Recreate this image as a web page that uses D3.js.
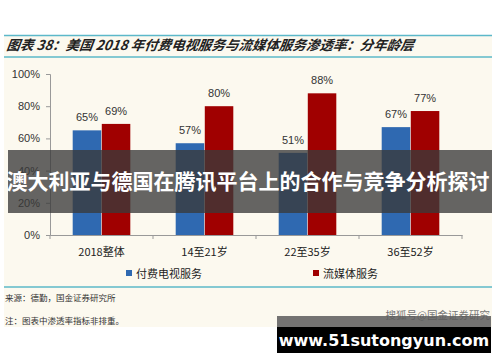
<!DOCTYPE html>
<html>
<head>
<meta charset="utf-8">
<script src="https://cdn.jsdelivr.net/npm/d3@7"></script>
<style>
  body { margin: 0; background: #fff; }
  text { font-family: "Liberation Sans", Arial, sans-serif; }
  .cjk { font-family: "Noto Sans CJK SC", sans-serif; }
</style>
</head>
<body>
<div id="chart"></div>
<script>
// data
const categories = ['2018整体', '14至21岁', '22至35岁', '36至52岁']
const payTV = [65, 57, 51, 67]
const streaming = [69, 80, 88, 77]
const seriesNames = ['付费电视服务', '流媒体服务']
const yTicks = [0, 20, 40, 60, 80, 100]

// constants
const width = 500
const height = 362
const cream = '#fcf9ef'
const lineBlue = '#5cb8c9'
const colors = ['#2f69b1', '#a00000']
const margin = {top: 74, left: 50, right: 38, bottom: 127}

const svg = d3.select('#chart').append('svg')
  .attr('width', width)
  .attr('height', height)

svg.append('rect').attr('width', width).attr('height', height).attr('fill', '#fff')
svg.append('rect')
  .attr('x', 4).attr('y', 35).attr('width', 488).attr('height', 292)
  .attr('fill', cream)

// title band
svg.append('line').attr('x1', 4).attr('x2', 492).attr('y1', 35.5).attr('y2', 35.5)
  .attr('stroke', lineBlue).attr('stroke-width', 1.5)
svg.append('line').attr('x1', 4).attr('x2', 492).attr('y1', 57).attr('y2', 57)
  .attr('stroke', lineBlue).attr('stroke-width', 1.5)
svg.append('text').attr('class', 'cjk')
  .attr('x', 7).attr('y', 50.5)
  .attr('font-size', 13.5).attr('font-weight', 'bold').attr('font-style', 'italic')
  .attr('fill', '#222')
  .attr('transform', 'skewX(-8) translate(6,0)')
  .text('图表 38：美国 2018 年付费电视服务与流媒体服务渗透率：分年龄层')

// scales
const x = d3.scaleBand()
  .domain(categories)
  .range([margin.left, width - margin.right])
const xInner = d3.scaleBand()
  .domain([0, 1])
  .range([0, x.bandwidth()])
  .paddingOuter(0.78)
  .paddingInner(0.02)
const y = d3.scaleLinear()
  .domain([0, 100])
  .range([height - margin.bottom, margin.top])

// axes
const yAxis = svg.append('g')
  .attr('transform', `translate(${margin.left},0)`)
  .call(d3.axisLeft(y).tickValues(yTicks).tickFormat(d => d + '%').tickSize(4).tickPadding(6))
yAxis.selectAll('path, line').attr('stroke', '#999')
yAxis.selectAll('text').attr('font-size', 11).attr('fill', '#333')
  .style('font-family', '"Liberation Sans", Arial, sans-serif')

const xAxis = svg.append('g')
  .attr('transform', `translate(0,${y(0)})`)
  .call(d3.axisBottom(x).tickSize(0).tickPadding(13))
xAxis.select('.domain').attr('stroke', '#999')
xAxis.selectAll('text').attr('font-size', 11).attr('fill', '#222')
  .style('font-family', '"Noto Sans CJK SC", sans-serif')
// category separators
svg.selectAll('.sep')
  .data(categories.concat(['end']))
  .join('line')
  .attr('x1', (d, i) => margin.left + i * x.step())
  .attr('x2', (d, i) => margin.left + i * x.step())
  .attr('y1', y(0)).attr('y2', y(0) + 4)
  .attr('stroke', '#999')

// bars
const series = [payTV, streaming]
series.forEach((vals, s) => {
  const g = svg.append('g')
  g.selectAll('rect')
    .data(vals)
    .join('rect')
    .attr('x', (d, i) => x(categories[i]) + xInner(s))
    .attr('y', d => y(d))
    .attr('width', xInner.bandwidth())
    .attr('height', d => y(0) - y(d))
    .attr('fill', colors[s])
  g.selectAll('text')
    .data(vals)
    .join('text')
    .attr('x', (d, i) => x(categories[i]) + xInner(s) + xInner.bandwidth() / 2)
    .attr('y', d => y(d) - 9)
    .attr('text-anchor', 'middle')
    .attr('font-size', 11)
    .attr('fill', '#333')
    .text(d => d + '%')
})

// legend
const legendX = [126, 313]
seriesNames.forEach((name, i) => {
  svg.append('rect')
    .attr('x', legendX[i]).attr('y', 270).attr('width', 6).attr('height', 6)
    .attr('fill', colors[i])
  svg.append('text').attr('class', 'cjk')
    .attr('x', legendX[i] + 10).attr('y', 277.5)
    .attr('font-size', 11).attr('fill', '#222')
    .text(name)
})

// footer
svg.append('line').attr('x1', 4).attr('x2', 492).attr('y1', 287).attr('y2', 287)
  .attr('stroke', lineBlue).attr('stroke-width', 1.5)
svg.append('text').attr('class', 'cjk')
  .attr('x', 5).attr('y', 301).attr('font-size', 8.5).attr('fill', '#333')
  .text('来源：德勤，国金证券研究所')
svg.append('text').attr('class', 'cjk')
  .attr('x', 5).attr('y', 324).attr('font-size', 8.5).attr('fill', '#333')
  .text('注：图表中渗透率指标非排重。')

// watermark boxes
svg.append('text').attr('class', 'cjk')
  .attr('x', 490).attr('y', 319).attr('text-anchor', 'end')
  .attr('font-size', 10.5).attr('fill', '#777')
  .text('搜狐号@国金证券研究')
svg.append('rect').attr('x', 277).attr('y', 316).attr('width', 214).attr('height', 11)
  .attr('fill', '#5c5c5c').attr('opacity', 0.85)
svg.append('rect').attr('x', 277).attr('y', 327).attr('width', 214).attr('height', 26)
  .attr('fill', '#000')
svg.append('text')
  .attr('x', 384).attr('y', 346).attr('text-anchor', 'middle')
  .attr('font-size', 16).attr('font-weight', 'bold').attr('fill', '#fff')
  .style('font-family', '"DejaVu Sans", sans-serif')
  .text('www.51sutongyun.com')

// overlay banner
svg.append('rect').attr('x', 8).attr('y', 150).attr('width', 484).attr('height', 63)
  .attr('fill', '#3a3a3a').attr('opacity', 0.78)
svg.append('text').attr('class', 'cjk')
  .attr('x', 248).attr('y', 189).attr('text-anchor', 'middle')
  .attr('font-size', 21).attr('font-weight', 'bold').attr('fill', '#fff')
  .text('澳大利亚与德国在腾讯平台上的合作与竞争分析探讨')
</script>
</body>
</html>
